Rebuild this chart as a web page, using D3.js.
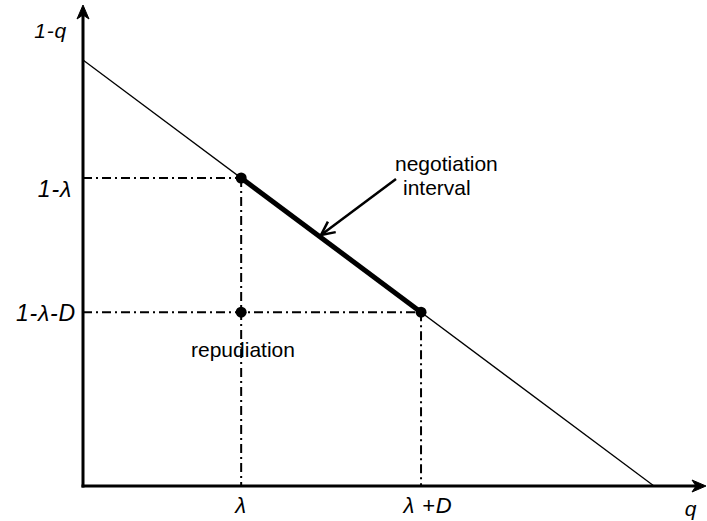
<!DOCTYPE html>
<html><head><meta charset="utf-8">
<script src="https://cdn.jsdelivr.net/npm/d3@7"></script>
<style>body{margin:0;background:#fff}svg{display:block}text{font-family:"Liberation Sans",Arial,sans-serif;fill:#000}</style>
</head><body><svg id="c" width="707" height="521"></svg>
<script>
// Data
const lambda = 0.277;
const D = 0.315;
const lineQ = [0, 1];                       // q endpoints of 1-q line
const intervalQ = [lambda, lambda + D];     // negotiation interval
const xTickValues = [lambda, lambda + D];
const xTickLabels = ["λ", "λ +D"];
const yTickValues = [1 - lambda, 1 - lambda - D];
const yTickLabels = ["1-λ", "1-λ-D"];
const pointsQ = [[lambda, 1 - lambda], [lambda + D, 1 - lambda - D], [lambda, 1 - lambda - D]];

const svg = d3.select("#c");
const x = d3.scaleLinear().domain([0, 1]).range([83, 654]);
const y = d3.scaleLinear().domain([0, 1]).range([486, 60]);

// dash-dot guides
const dd = "9,4,2,4";
const guides = [
  [[0, 1 - lambda], [lambda, 1 - lambda]],
  [[lambda, 1 - lambda], [lambda, 0]],
  [[0, 1 - lambda - D], [lambda + D, 1 - lambda - D]],
  [[lambda + D, 1 - lambda - D], [lambda + D, 0]]
];
const lineGen = d3.line().x(d => x(d[0])).y(d => y(d[1]));
svg.selectAll("path.guide").data(guides).join("path").attr("class", "guide")
  .attr("d", lineGen).attr("fill", "none").attr("stroke", "#000")
  .attr("stroke-width", 2).attr("stroke-dasharray", dd);

// thin 1-q line
svg.append("path").attr("d", lineGen(lineQ.map(q => [q, 1 - q])))
  .attr("stroke", "#000").attr("stroke-width", 1.3).attr("fill", "none");
// thick interval
svg.append("path").attr("d", lineGen(intervalQ.map(q => [q, 1 - q])))
  .attr("stroke", "#000").attr("stroke-width", 5).attr("fill", "none");

// points
svg.selectAll("circle").data(pointsQ).join("circle")
  .attr("cx", d => x(d[0])).attr("cy", d => y(d[1])).attr("r", 5.5).attr("fill", "#000");

// axes
svg.append("line").attr("x1", x(0)).attr("x2", x(0)).attr("y1", y(0) + 1.5).attr("y2", 14)
  .attr("stroke", "#000").attr("stroke-width", 3);
svg.append("path").attr("d", `M${x(0)},5 L${x(0) - 6},19 L${x(0)},15 L${x(0) + 6},19 Z`).attr("fill", "#000")
  .attr("stroke", "#000").attr("stroke-width", 1).attr("stroke-linejoin", "miter");
svg.append("line").attr("x1", x(0) - 1.5).attr("x2", 697).attr("y1", y(0)).attr("y2", y(0))
  .attr("stroke", "#000").attr("stroke-width", 3);
svg.append("path").attr("d", `M706,${y(0)} L692,${y(0) - 6} L696,${y(0)} L692,${y(0) + 6} Z`).attr("fill", "#000")
  .attr("stroke", "#000").attr("stroke-width", 1);

const italic = (sel, s) => sel.attr("font-size", s || 21).attr("font-style", "italic").attr("letter-spacing", 0.8);

// axis labels
svg.append("text").attr("x", 67).attr("y", 38).attr("text-anchor", "end").call(italic).text("1-q");
svg.append("text").attr("x", 691).attr("y", 516).attr("text-anchor", "middle").call(italic).text("q");

// tick labels
svg.selectAll("text.xt").data(xTickValues).join("text").attr("class", "xt")
  .attr("x", (d, i) => x(d) + (i ? 7 : 0)).attr("y", 513).attr("text-anchor", "middle")
  .call(italic, 22).text((d, i) => xTickLabels[i]);
svg.selectAll("text.yt").data(yTickValues).join("text").attr("class", "yt")
  .attr("x", (d, i) => i ? 76 : 72).attr("y", (d, i) => y(d) + (i ? 9 : 19)).attr("text-anchor", "end")
  .call(italic, 23).text((d, i) => yTickLabels[i]);

// annotations
const plain = sel => sel.attr("font-size", 21);
svg.append("text").attr("x", 395).attr("y", 171).call(plain).text("negotiation");
svg.append("text").attr("x", 403).attr("y", 195).call(plain).text("interval");
svg.append("text").attr("x", 191).attr("y", 357).call(plain).text("repudiation");

// annotation arrow
const a0 = [396, 179], a1 = [321, 235];
svg.append("line").attr("x1", a0[0]).attr("y1", a0[1]).attr("x2", a1[0]).attr("y2", a1[1])
  .attr("stroke", "#000").attr("stroke-width", 2.5);
const ang = Math.atan2(a1[1] - a0[1], a1[0] - a0[0]);
const L = 15, w = 0.45;
const p1 = [a1[0] - L * Math.cos(ang - w), a1[1] - L * Math.sin(ang - w)];
const p2 = [a1[0] - L * Math.cos(ang + w), a1[1] - L * Math.sin(ang + w)];
svg.append("path").attr("d", `M${p1[0]},${p1[1]} L${a1[0]},${a1[1]} L${p2[0]},${p2[1]}`)
  .attr("fill", "none").attr("stroke", "#000").attr("stroke-width", 2.5);
</script></body></html>
